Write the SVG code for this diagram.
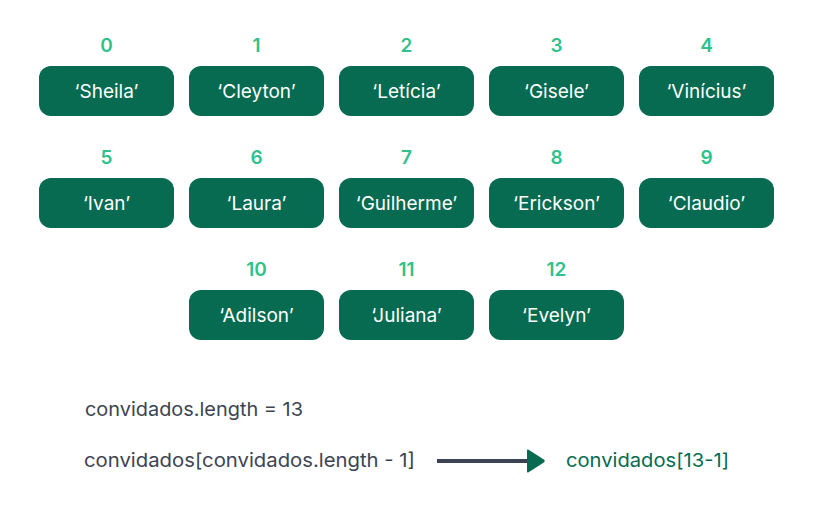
<svg xmlns="http://www.w3.org/2000/svg" width="814" height="520" viewBox="0 0 814 520">
<style>
.box{fill:#066b50}
.nm{font-family:Inter,"Liberation Sans",sans-serif;font-size:19px;fill:#ffffff;text-anchor:middle}
.ix{font-family:Inter,"Liberation Sans",sans-serif;font-size:19px;font-weight:600;fill:#2ec28a;text-anchor:middle}
.code{font-family:Inter,"Liberation Sans",sans-serif;font-size:19px;font-weight:400;fill:#3d4451}
</style>
<defs>
<marker id="ah" markerWidth="5" markerHeight="6" refX="0" refY="3" orient="auto" markerUnits="strokeWidth">
<path d="M0,0.3 Q0,0 0.4,0.2 L4.3,2.7 Q4.6,3 4.3,3.3 L0.4,5.8 Q0,6 0,5.7 Z" fill="#066b50"/>
</marker>
</defs>
<rect width="814" height="520" fill="#ffffff"/>
<g id="n0"><text class="ix" x="106.5" y="51.5">0</text><rect class="box" x="39" y="66" width="135" height="50" rx="12"/><text class="nm" x="106.5" y="97.5">‘Sheila’</text></g>
<g id="n1"><text class="ix" x="256.5" y="51.5">1</text><rect class="box" x="189" y="66" width="135" height="50" rx="12"/><text class="nm" x="256.5" y="97.5">‘Cleyton’</text></g>
<g id="n2"><text class="ix" x="406.5" y="51.5">2</text><rect class="box" x="339" y="66" width="135" height="50" rx="12"/><text class="nm" x="406.5" y="97.5">‘Letícia’</text></g>
<g id="n3"><text class="ix" x="556.5" y="51.5">3</text><rect class="box" x="489" y="66" width="135" height="50" rx="12"/><text class="nm" x="556.5" y="97.5">‘Gisele’</text></g>
<g id="n4"><text class="ix" x="706.5" y="51.5">4</text><rect class="box" x="639" y="66" width="135" height="50" rx="12"/><text class="nm" x="706.5" y="97.5">‘Vinícius’</text></g>
<g id="n5"><text class="ix" x="106.5" y="163.5">5</text><rect class="box" x="39" y="178" width="135" height="50" rx="12"/><text class="nm" x="106.5" y="209.5">‘Ivan’</text></g>
<g id="n6"><text class="ix" x="256.5" y="163.5">6</text><rect class="box" x="189" y="178" width="135" height="50" rx="12"/><text class="nm" x="256.5" y="209.5">‘Laura’</text></g>
<g id="n7"><text class="ix" x="406.5" y="163.5">7</text><rect class="box" x="339" y="178" width="135" height="50" rx="12"/><text class="nm" x="406.5" y="209.5">‘Guilherme’</text></g>
<g id="n8"><text class="ix" x="556.5" y="163.5">8</text><rect class="box" x="489" y="178" width="135" height="50" rx="12"/><text class="nm" x="556.5" y="209.5">‘Erickson’</text></g>
<g id="n9"><text class="ix" x="706.5" y="163.5">9</text><rect class="box" x="639" y="178" width="135" height="50" rx="12"/><text class="nm" x="706.5" y="209.5">‘Claudio’</text></g>
<g id="n10"><text class="ix" x="256.5" y="275.5">10</text><rect class="box" x="189" y="290" width="135" height="50" rx="12"/><text class="nm" x="256.5" y="321.5">‘Adilson’</text></g>
<g id="n11"><text class="ix" x="406.5" y="275.5">11</text><rect class="box" x="339" y="290" width="135" height="50" rx="12"/><text class="nm" x="406.5" y="321.5">‘Juliana’</text></g>
<g id="n12"><text class="ix" x="556.5" y="275.5">12</text><rect class="box" x="489" y="290" width="135" height="50" rx="12"/><text class="nm" x="556.5" y="321.5">‘Evelyn’</text></g>
<g id="len"><text class="code" x="85" y="416" textLength="218" lengthAdjust="spacingAndGlyphs">convidados.length = 13</text></g>
<g id="expr"><text class="code" x="84" y="467" textLength="331" lengthAdjust="spacingAndGlyphs">convidados[convidados.length - 1]</text></g>
<g id="res"><text class="code" x="566" y="467" textLength="163" lengthAdjust="spacingAndGlyphs" style="fill:#066b50">convidados[13-1]</text></g>
<g id="connectors">
<line x1="437" y1="461" x2="527" y2="461" stroke="#3d4451" stroke-width="4" marker-end="url(#ah)"/>
</g>
</svg>
